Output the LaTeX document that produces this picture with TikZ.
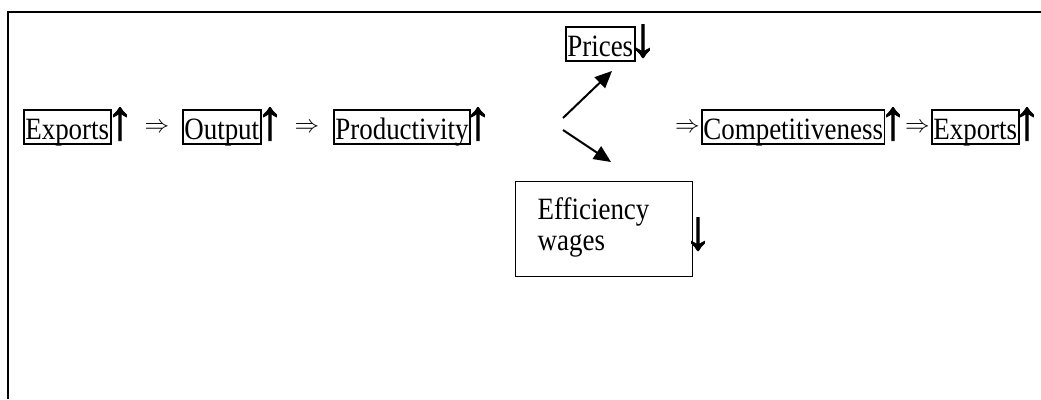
\RequirePackage{fix-cm}
\documentclass[tikz,border=0pt]{standalone}
\usepackage{fontspec}
\setmainfont{Liberation Serif}[FakeStretch=0.87]
\newfontfamily\trendfont{Liberation Serif}[FakeBold=1.5]
\usetikzlibrary{positioning,arrows.meta}

\begin{document}
\begin{tikzpicture}[x=1pt,y=-1pt,
        font=\fontsize{31}{31}\selectfont,
        factor/.style={
            draw=black,
            line width=1.6pt,
            inner xsep=1.5pt, % tight box round the word
            inner ysep=1.5pt,
            text height=27.5pt,
            text depth=3.5pt
        },
        trend/.style={
            inner sep=0pt,
            anchor=base,
            font=\trendfont\fontsize{56}{56}\selectfont
        },
        implies/.style={inner sep=0pt, font=\fontsize{12}{12}\selectfont},
        branch/.style={
            line width=2pt,
            -{Triangle[length=17pt,width=15pt]}
        }
    ]
\useasboundingbox (0,0) rectangle (1041,399);

% Frame, open at the bottom and on the right
\draw[line width=2pt] (8,399) -- (8,12) -- (1041,12);

% First half of the chain
        \node[factor, anchor=west] (exports) at (23,127) {Exports};
        \node[trend] (upexports) at (120,139) {↑};
        \node[implies] (imp1) at (157,128) {\scalebox{2.05}{$\Rightarrow$}};
        \node[factor, anchor=west] (output) at (182,127) {Output};
        \node[trend] (upoutput) at (270,139) {↑};
        \node[implies] (imp2) at (307,128) {\scalebox{2.05}{$\Rightarrow$}};
        \node[factor, anchor=west] (prod) at (333,127) {Productivity};
        \node[trend] (upprod) at (478,139) {↑};

% The fork
        \node[factor, anchor=west] (prices) at (565,44) {Prices};
        \node[trend] (downprices) at (643,56) {↓};
        \node[draw=black, line width=1.2pt, anchor=north west,
              text width=133pt, inner xsep=22pt, inner ysep=0pt,
              text height=38pt, text depth=57pt, align=left] (eff) at (515,181)
              {Efficiency\\wages};
        \node[trend] (downeff) at (698,249) {↓};
\coordinate (forkup) at (563,118);
\coordinate (forkdown) at (563,130);
\coordinate (tipprices) at (612,71);
\coordinate (tipeff) at (611,162);
\draw[branch] (forkup) -- (tipprices);
\draw[branch] (forkdown) -- (tipeff);

% Second half of the chain
        \node[implies] (imp3) at (687.5,128) {\scalebox{2.05}{$\Rightarrow$}};
        \node[factor, anchor=west] (comp) at (701,127) {Competitiveness};
        \node[trend] (upcomp) at (893,139) {↑};
        \node[implies] (imp4) at (917.5,128) {\scalebox{2.05}{$\Rightarrow$}};
        \node[factor, anchor=west] (exports2) at (931,127) {Exports};
        \node[trend] (upexports2) at (1027,139) {↑};

    \end{tikzpicture}
\end{document}
